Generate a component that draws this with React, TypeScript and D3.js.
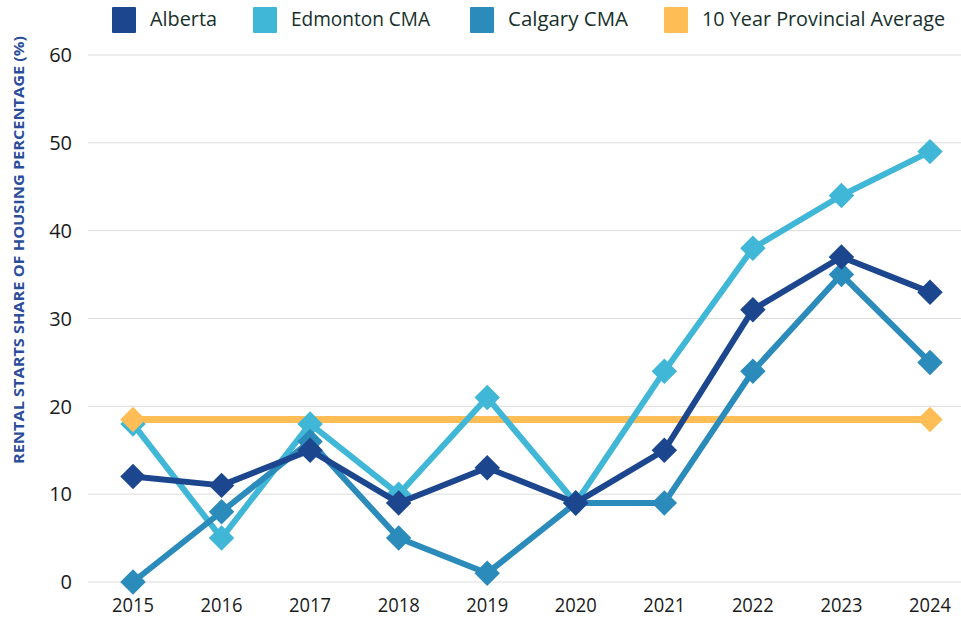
import React from "react"
import { scaleLinear, scalePoint, line, symbol, symbolSquare } from "d3"

const years = ["2015", "2016", "2017", "2018", "2019", "2020", "2021", "2022", "2023", "2024"]
const alberta = [12, 11, 15, 9, 13, 9, 15, 31, 37, 33]
const edmonton = [18, 5, 18, 10, 21, 9, 24, 38, 44, 49]
const calgary = [0, 8, 16, 5, 1, 9, 9, 24, 35, 25]
const provincialAvg = 18.5
const yTicks = [0, 10, 20, 30, 40, 50, 60]

const width = 961
const height = 619
const margin = { top: 55, right: 31, bottom: 37, left: 133 }

const series = [
  { name: "Edmonton CMA", values: edmonton, color: "#41b7d7" },
  { name: "Calgary CMA", values: calgary, color: "#2b8bbb" },
  { name: "Alberta", values: alberta, color: "#1c468d" },
]

const legend = [
  { name: "Alberta", color: "#1c468d", x: 112, w: 67 },
  { name: "Edmonton CMA", color: "#41b7d7", x: 253, w: 139 },
  { name: "Calgary CMA", color: "#2b8bbb", x: 470, w: 120 },
  { name: "10 Year Provincial Average", color: "#ffbe55", x: 664, w: 243 },
]

function App() {
  const x = scalePoint<string>()
    .domain(years)
    .range([margin.left, width - margin.right])

  const y = scaleLinear()
    .domain([0, 60])
    .range([height - margin.bottom, margin.top])

  const path = line<number>()
    .x((d, i) => x(years[i]) as number)
    .y(d => y(d))

  const diamond = symbol().type(symbolSquare).size(324)() || ""

  const avgValues = years.map(() => provincialAvg)
  const font = "'Open Sans', sans-serif"

  return (
    <svg width={width} height={height} style={{ position: "absolute", left: 0, top: 0, background: "#fff" }}>
      {yTicks.map(t => (
        <g key={t} transform={`translate(0, ${y(t)})`}>
          <line x1={88} x2={width} stroke="#dcdcdc" strokeWidth={1} />
          <text x={72} dy="0.36em" textAnchor="end" fontFamily={font} fontSize={20} fill="#1a1a1a">{t}</text>
        </g>
      ))}
      {years.map(yr => (
        <text key={yr} x={x(yr)} y={height - 7} textAnchor="middle" fontFamily={font} fontSize={20} fontWeight={500}
          fill="#1a1a1a" textLength={42} lengthAdjust="spacingAndGlyphs">{yr}</text>
      ))}
      <text
        transform={`translate(24, 250) rotate(-90)`}
        textAnchor="middle"
        fontFamily={font}
        fontWeight="bold"
        fontSize={14.5}
        fill="#2b4e9b"
        textLength={428}
        lengthAdjust="spacingAndGlyphs"
      >RENTAL STARTS SHARE OF HOUSING PERCENTAGE (%)</text>

      <path d={path(avgValues) || ""} fill="none" stroke="#ffbe55" strokeWidth={7} />

      {series.map(s => (
        <g key={s.name}>
          <path d={path(s.values) || ""} fill="none" stroke={s.color} strokeWidth={6} strokeLinejoin="round" />
          {s.values.map((v, i) => (
            <path key={i} d={diamond} transform={`translate(${x(years[i])}, ${y(v)}) rotate(45)`} fill={s.color} />
          ))}
        </g>
      ))}

      {[0, years.length - 1].map(i => (
        <path key={i} d={diamond} transform={`translate(${x(years[i])}, ${y(provincialAvg)}) rotate(45)`} fill="#ffbe55" />
      ))}

      {legend.map(l => (
        <g key={l.name}>
          <rect x={l.x} y={7} width={24} height={26} fill={l.color} rx={1} />
          <text x={l.x + 38} y={26} fontFamily={font} fontSize={20} fill="#17302b"
            textLength={l.w} lengthAdjust="spacingAndGlyphs">{l.name}</text>
        </g>
      ))}
    </svg>
  )
}

export default App
